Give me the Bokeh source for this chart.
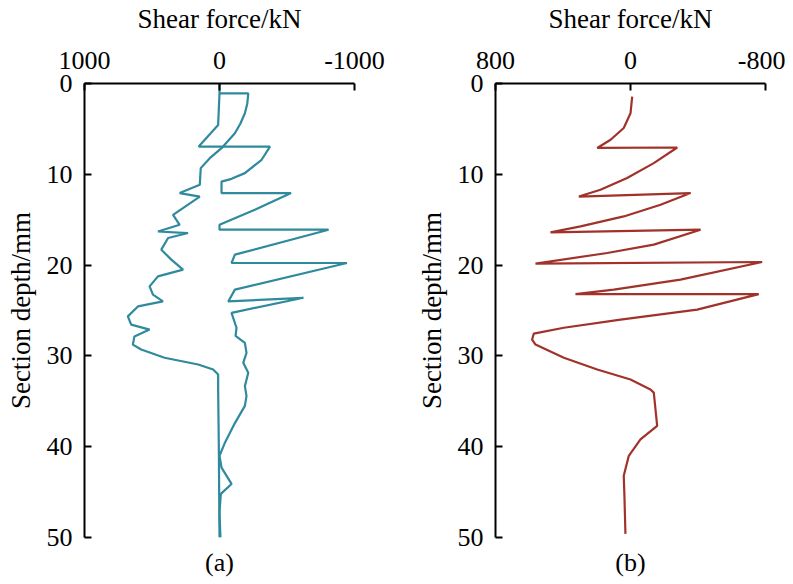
from bokeh.plotting import figure
from bokeh.layouts import row
from bokeh.models import Range1d, FixedTicker, Title
from bokeh.embed import file_html
from bokeh.resources import INLINE

# ---- data (a) ----
a1_shear = [0, 0, 10, 154, -374, -312, -188, -89, -15, -15, -530, -262, 0, 0, -808,
            -114, -89, -944, -114, -65, -622, -89, -126, -119, -188, -200, -176, -213,
            -188, -200, -188, -114, -39, 0, -15, -89, -10, 0, -7]
a1_depth = [0, 1.08, 4.56, 6.95, 6.95, 8.4, 9.87, 10.5, 10.8, 12.07, 12.07, 13.9, 15.56,
            16.1, 16.1, 18.85, 19.77, 19.77, 22.7, 24.0, 23.6, 25.26, 26.9, 27.8, 28.56,
            29.66, 30.76, 31.86, 33.33, 34.4, 35.5, 37.4, 39.6, 41.0, 42.3, 44.1, 45.2,
            47.2, 50]
a2_shear = [0, -213, -206, -188, -155, -114, -15, 72, 139, 146, 295, 146, 344, 295, 456,
            233, 381, 431, 357, 270, 456, 518, 493, 419, 604, 679, 654, 518, 630, 642,
            580, 407, 158, 47, 10, 10, 5, 0]
a2_depth = [1.08, 1.08, 2.2, 3.28, 4.4, 5.48, 7.12, 8.22, 9.32, 11.16, 12.07, 12.45,
            14.46, 15.56, 16.3, 16.47, 17.02, 18.3, 19.4, 20.5, 21.24, 22.34, 23.26, 24.0,
            24.55, 25.65, 26.56, 27.1, 27.85, 28.76, 29.3, 30.2, 30.95, 31.5, 32.05, 33.7,
            40.0, 50]

# ---- data (b) ----
b_shear = [-10, 0, 40, 118, 197, -277, -138, 20, 178, 306, -356, -178, 40, 296, 474,
           -415, -138, 138, 563, -780, -296, 99, 326, -760, -395, 59, 395, 573, 583, 563,
           395, 197, 0, -118, -138, -158, -59, 10, 40, 36, 30]
b_depth = [1.45, 3.28, 4.9, 6.2, 7.1, 7.05, 8.77, 10.4, 11.7, 12.45, 12.07, 13.36, 14.64,
           15.74, 16.4, 16.1, 17.75, 18.67, 19.84, 19.66, 21.6, 22.7, 23.2, 23.2, 24.9,
           26.0, 26.9, 27.54, 28.2, 28.75, 30.2, 31.5, 32.6, 33.7, 34.05, 37.7, 39.2,
           41.0, 43.2, 45.4, 49.6]

a_xticks = [1000, 0, -1000]
b_xticks = [800, 0, -800]
y_ticks = [0, 10, 20, 30, 40, 50]

FONT = "Liberation Serif"
TEAL = "#2E8A9C"
RED = "#A0322A"


def make_panel(xlim, xticks, width, bl, br, tag):
    p = figure(width=width, height=584, output_backend="svg", toolbar_location=None,
               x_range=Range1d(xlim, -xlim), y_range=Range1d(50, 0),
               x_axis_location="above",
               min_border_left=bl, min_border_right=br, min_border_top=83,
               min_border_bottom=46)
    p.outline_line_color = None
    p.grid.visible = False
    p.background_fill_color = "white"
    p.border_fill_color = "white"
    p.xaxis.ticker = FixedTicker(ticks=xticks)
    p.xaxis.major_label_overrides = {t: str(t) for t in xticks}
    p.yaxis.ticker = FixedTicker(ticks=y_ticks)
    p.xaxis.axis_label = "Shear force/kN"
    p.yaxis.axis_label = "Section depth/mm"
    for ax in (p.xaxis, p.yaxis):
        ax.axis_line_width = 2
        ax.axis_line_color = "black"
        ax.major_tick_line_width = 2
        ax.major_tick_line_color = "black"
        ax.major_tick_in = 7
        ax.major_tick_out = 0
        ax.minor_tick_line_color = None
        ax.major_label_text_font = FONT
        ax.major_label_text_font_size = "26px"
        ax.major_label_text_color = "black"
        ax.axis_label_text_font = FONT
        ax.axis_label_text_font_size = "27px"
        ax.axis_label_text_font_style = "normal"
        ax.axis_label_text_color = "black"
    p.xaxis.major_label_standoff = 15
    p.xaxis.axis_label_standoff = 15
    p.yaxis.major_label_standoff = 12
    p.yaxis.axis_label_standoff = 8
    t = Title(text=tag, align="center", text_font=FONT, text_font_size="26px",
              text_font_style="normal", text_color="black", standoff=16)
    p.add_layout(t, "below")
    return p


pa = make_panel(1000, a_xticks, 412, 84, 58, "(a)")
pa.line(a1_shear, a1_depth, line_color=TEAL, line_width=2.2)
pa.line(a2_shear, a2_depth, line_color=TEAL, line_width=2.2)

pb = make_panel(800, b_xticks, 373, 83, 20, "(b)")
pb.line(b_shear, b_depth, line_color=RED, line_width=2.2)

layout = row(pa, pb)
open("out.html", "w").write(file_html(layout, INLINE))
